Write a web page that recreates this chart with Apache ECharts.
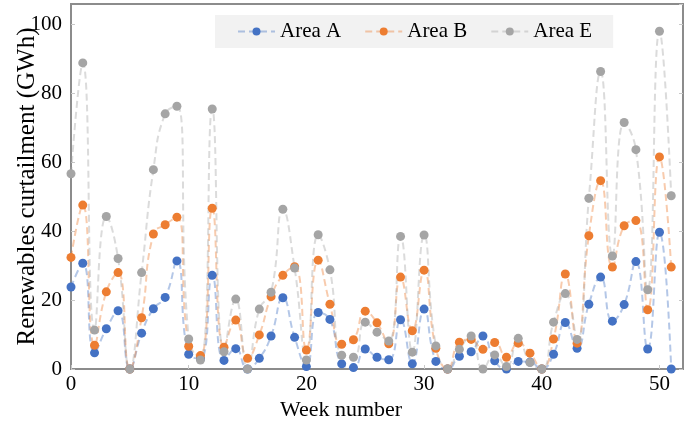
<!DOCTYPE html>
<html>
<head>
<meta charset="utf-8">
<script src="https://cdn.jsdelivr.net/npm/echarts@6/dist/echarts.min.js"></script>
<style>
  html, body { margin: 0; padding: 0; background: #fff; }
  #main { width: 691px; height: 426px; }
</style>
</head>
<body>
<div id="main"></div>
<script>
var weeks = [];
for (var w = 0; w < 52; w++) { weeks.push(w); }

var seriesNames = ['Area A', 'Area B', 'Area E'];
var areaA = [23.8, 30.7, 4.7, 11.7, 16.9, 0, 10.4, 17.5, 20.8, 31.4,
             4.3, 3.0, 27.2, 2.5, 5.9, 0, 3.1, 9.6, 20.7, 9.2,
             0.7, 16.4, 14.4, 1.5, 0.4, 5.8, 3.4, 2.7, 14.3, 1.5,
             17.4, 2.2, 0, 3.7, 5.0, 9.6, 2.4, 0, 2.2, 2.0,
             0, 4.3, 13.5, 6.0, 18.8, 26.7, 13.9, 18.7, 31.2, 5.8,
             39.7, 0];
var areaB = [32.4, 47.6, 6.9, 22.4, 28.0, 0, 14.9, 39.2, 41.9, 44.1,
             6.6, 3.9, 46.7, 6.3, 14.2, 3.1, 9.9, 21.0, 27.2, 29.7,
             5.5, 31.6, 18.8, 7.2, 8.5, 16.8, 13.4, 7.3, 26.7, 11.1,
             28.7, 6.0, 0, 7.8, 8.6, 5.7, 7.7, 3.4, 7.5, 4.6,
             0, 8.7, 27.6, 7.5, 38.7, 54.7, 29.6, 41.6, 43.1, 17.2,
             61.6, 29.6];
var areaE = [56.7, 88.9, 11.3, 44.3, 32.1, 0, 28.0, 57.9, 74.1, 76.3,
             8.7, 2.6, 75.5, 5.0, 20.3, 0, 17.4, 22.3, 46.4, 29.3,
             2.6, 39.0, 28.8, 4.0, 3.4, 13.6, 10.7, 8.1, 38.5, 4.9,
             38.9, 6.7, 0, 5.7, 9.6, 0, 4.1, 0.7, 8.9, 1.9,
             0, 13.6, 21.9, 8.6, 49.6, 86.4, 32.8, 71.6, 63.7, 23.0,
             98.1, 50.3];
var colors = ['#4472c4', '#ed7d31', '#a5a5a5'];

var font = 'Liberation Serif';

function pairs(vals) {
  var res = [];
  for (var i = 0; i < vals.length; i++) {
    res.push([weeks[i], vals[i]]);
  }
  return res;
}

function lineSeries(name, vals, color) {
  return {
    name: name,
    type: 'line',
    data: pairs(vals),
    smooth: 0.5,
    symbol: 'circle',
    symbolSize: 9,
    showAllSymbol: true,
    itemStyle: { color: color, opacity: 1 },
    lineStyle: { color: color, width: 2, type: [7, 4], opacity: 0.4 },
    emphasis: { disabled: true },
    animation: false
  };
}

var chart = echarts.init(document.getElementById('main'));
var option = {
  backgroundColor: '#fff',
  color: colors,
  grid: {
    left: 71, right: 8, top: 4, bottom: 57,
    show: true,
    borderColor: '#8c8c8c',
    borderWidth: 2,
    backgroundColor: 'transparent'
  },
  legend: {
    left: 215,
    top: 15,
    padding: [6, 21, 6, 22],
    backgroundColor: '#f2f2f2',
    itemWidth: 37,
    itemHeight: 10,
    itemGap: 23,
    textStyle: { fontFamily: font, fontSize: 21, color: '#000' },
    data: seriesNames
  },
  xAxis: {
    type: 'value',
    min: 0, max: 52, interval: 10,
    name: 'Week number',
    nameLocation: 'middle',
    nameGap: 30,
    nameMoveOverlap: false,
    nameTextStyle: { fontFamily: font, fontSize: 22, color: '#000', padding: [0, 72, 0, 0] },
    axisLine: { show: false },
    axisTick: { show: true, inside: true, length: 4, lineStyle: { color: '#c8c8c8' } },
    axisLabel: { fontFamily: font, fontSize: 21, color: '#000', margin: 5, showMaxLabel: false },
    splitLine: { show: false }
  },
  yAxis: [{
    type: 'value',
    min: 0, max: 106, interval: 20,
    name: 'Renewables curtailment (GWh)',
    nameLocation: 'middle',
    nameGap: 31,
    nameMoveOverlap: false,
    nameTextStyle: { fontFamily: font, fontSize: 25, color: '#000' },
    axisLine: { show: false },
    axisTick: { show: true, inside: true, length: 4, lineStyle: { color: '#c8c8c8' } },
    axisLabel: { fontFamily: font, fontSize: 21, color: '#000', margin: 9, showMaxLabel: false },
    splitLine: { show: false }
  }, {
    type: 'value',
    position: 'right',
    min: 0, max: 106, interval: 20,
    axisLine: { show: false },
    axisTick: { show: true, inside: true, length: 4, lineStyle: { color: '#c8c8c8' } },
    axisLabel: { show: false },
    splitLine: { show: false }
  }],
  series: [
    lineSeries(seriesNames[0], areaA, colors[0]),
    lineSeries(seriesNames[1], areaB, colors[1]),
    lineSeries(seriesNames[2], areaE, colors[2])
  ]
};
chart.setOption(option);
</script>
</body>
</html>
